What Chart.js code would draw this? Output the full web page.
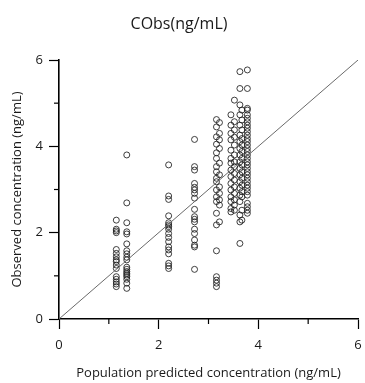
<!DOCTYPE html>
<html>
<head>
<meta charset="utf-8">
<script src="https://cdn.jsdelivr.net/npm/chart.js@4"></script>
<style>
  html, body { margin: 0; padding: 0; background: #fff; }
  canvas { display: block; }
</style>
</head>
<body>
<canvas id="gofChart" width="365" height="383"></canvas>
<script>
// population predicted value of each column of points
const groupPred = [1.15, 1.36, 2.2, 2.72, 3.16, 3.22, 3.45, 3.52, 3.63, 3.67, 3.78];

// observed concentrations in each column
const groupObs = [
  [2.29, 2.08, 2.04, 2.0, 1.61, 1.52, 1.44, 1.37, 1.33, 1.25, 1.17, 0.98, 0.92, 0.86, 0.81, 0.75],
  [3.8, 2.69, 2.23, 2.02, 1.97, 1.74, 1.58, 1.51, 1.43, 1.37, 1.2, 1.15, 1.1, 1.06, 1.02, 0.98, 0.92, 0.83, 0.71],
  [3.57, 2.85, 2.77, 2.39, 2.23, 2.18, 2.14, 2.08, 1.98, 1.89, 1.79, 1.67, 1.6, 1.51, 1.29, 1.23, 1.17],
  [4.16, 3.53, 3.45, 3.14, 3.05, 2.99, 2.91, 2.8, 2.54, 2.37, 2.31, 2.25, 2.08, 1.98, 1.83, 1.71, 1.67, 1.15],
  [4.62, 4.45, 4.22, 4.05, 3.85, 3.72, 3.53, 3.41, 3.26, 3.18, 2.99, 2.83, 2.72, 2.45, 2.18, 1.58, 0.98, 0.9, 0.83, 0.75],
  [4.55, 4.3, 4.15, 3.95, 3.61, 3.34, 3.06, 2.91, 2.76, 2.64, 2.25],
  [4.73, 4.49, 4.3, 4.15, 3.91, 3.72, 3.61, 3.45, 3.3, 3.14, 2.99, 2.83, 2.72, 2.56, 2.48],
  [5.07, 4.57, 4.38, 4.21, 4.03, 3.8, 3.64, 3.53, 3.37, 3.22, 3.06, 2.91, 2.76, 2.64, 2.52],
  [5.73, 5.34, 4.96, 4.73, 4.49, 4.26, 4.11, 3.95, 3.8, 3.64, 3.49, 3.34, 3.18, 3.03, 2.87, 2.72, 2.41, 2.25, 1.75],
  [4.84, 4.61, 4.38, 4.18, 4.03, 3.88, 3.72, 3.57, 3.41, 3.26, 3.1, 2.95, 2.83, 2.52, 2.29],
  [5.77, 5.34, 4.88, 4.84, 4.73, 4.65, 4.57, 4.49, 4.42, 4.34, 4.26, 4.18, 4.11, 4.03, 3.95, 3.88, 3.8, 3.72, 3.64, 3.57, 3.49, 3.41, 3.34, 3.26, 3.18, 3.1, 3.03, 2.95, 2.87, 2.68, 2.6, 2.52, 2.45]
];

const identityLine = [0, 6];
const majorTicks = [0, 2, 4, 6];
const minorTicks = [1, 3, 5];

const chartTitle = "CObs(ng/mL)";
const xTitle = "Population predicted concentration (ng/mL)";
const yTitle = "Observed concentration (ng/mL)";

const points = [];
groupPred.forEach((x, i) => {
  groupObs[i].forEach((y) => points.push({ x: x, y: y }));
});

const fontFamily = "'Open Sans', 'Noto Sans', sans-serif";
const textColor = "#1a1a1a";

// shorter ticks at the odd values, drawn at the scale's own positions
const minorTickPlugin = {
  id: "minorTicks",
  afterDraw(chart) {
    const { ctx, chartArea, scales } = chart;
    ctx.save();
    ctx.strokeStyle = "#000";
    ctx.lineWidth = 1.2;
    minorTicks.forEach((v) => {
      const px = scales.x.getPixelForValue(v);
      ctx.beginPath();
      ctx.moveTo(px, chartArea.bottom);
      ctx.lineTo(px, chartArea.bottom + 5);
      ctx.stroke();
      const py = scales.y.getPixelForValue(v);
      ctx.beginPath();
      ctx.moveTo(chartArea.left, py);
      ctx.lineTo(chartArea.left - 5, py);
      ctx.stroke();
    });
    ctx.restore();
  },
};

const axisOptions = (title, fit, tickPadding, titlePadding) => ({
  type: "linear",
  min: 0,
  max: 6,
  afterFit: fit,
  afterBuildTicks: (scale) => {
    scale.ticks = majorTicks.map((v) => ({ value: v }));
  },
  ticks: {
    color: textColor,
    font: { family: fontFamily, size: 13 },
    padding: tickPadding,
    maxRotation: 0,
    autoSkip: false,
  },
  grid: {
    drawOnChartArea: false,
    drawTicks: true,
    tickLength: 10,
    tickColor: "#000",
    tickWidth: 1.2,
  },
  border: { color: "#000", width: 1.6 },
  title: {
    display: true,
    text: title,
    color: textColor,
    font: { family: fontFamily, size: 13 },
    padding: titlePadding,
  },
});

new Chart(document.getElementById("gofChart"), {
  type: "scatter",
  data: {
    datasets: [
      {
        type: "line",
        data: identityLine.map((v) => ({ x: v, y: v })),
        borderColor: "#6a6a6a",
        borderWidth: 1,
        pointRadius: 0,
        order: 1,
      },
      {
        data: points,
        pointStyle: "circle",
        pointRadius: 3,
        pointBorderWidth: 1,
        borderColor: "rgba(30, 30, 30, 0.85)",
        backgroundColor: "rgba(0, 0, 0, 0)",
        order: 2,
      },
    ],
  },
  options: {
    responsive: false,
    animation: false,
    devicePixelRatio: 1,
    layout: { padding: { left: 0, right: 7, top: 0, bottom: 0 } },
    plugins: {
      legend: { display: false },
      tooltip: { enabled: false },
      title: {
        display: true,
        text: chartTitle,
        color: textColor,
        font: { family: fontFamily, size: 16, weight: "normal" },
        padding: { top: 15, bottom: 25.8 },
      },
    },
    scales: {
      x: axisOptions(xTitle, (s) => {
        s.height = 64;
        s.paddingLeft = 0;
        s.paddingRight = 0;
      }, 8, { top: 0, bottom: 2.2 }),
      y: axisOptions(yTitle, (s) => { s.width = 59; }, 6, { top: 9.2, bottom: 0 }),
    },
  },
  plugins: [minorTickPlugin],
});
</script>
</body>
</html>
